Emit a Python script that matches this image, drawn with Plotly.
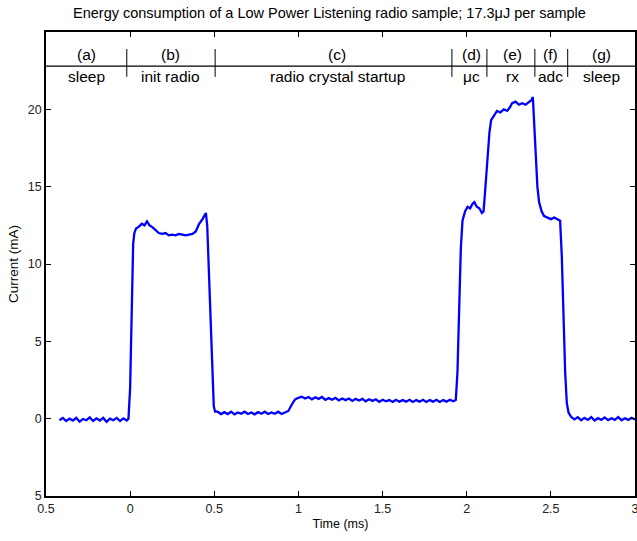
import plotly.graph_objects as go

# ---- data ----
time_ms = [
    -0.42, -0.40, -0.38, -0.36, -0.34, -0.32, -0.30, -0.28, -0.26, -0.24, -0.22, -0.20,
    -0.18, -0.16, -0.14, -0.12, -0.10, -0.08, -0.06, -0.04, -0.02, -0.01,
    0.0, 0.01, 0.018, 0.025, 0.035, 0.05, 0.07, 0.085, 0.10, 0.115, 0.13, 0.15, 0.17, 0.19,
    0.21, 0.23, 0.25, 0.27, 0.29, 0.31, 0.33, 0.35, 0.37, 0.39, 0.41, 0.43, 0.44, 0.45,
    0.458, 0.47, 0.48, 0.49, 0.497, 0.505,
    0.52, 0.54, 0.56, 0.58, 0.60, 0.62, 0.64, 0.66, 0.68, 0.70, 0.72, 0.74, 0.76, 0.78,
    0.80, 0.82, 0.84, 0.86, 0.88, 0.90, 0.92, 0.94, 0.96, 0.98, 1.00,
    1.02, 1.04, 1.06, 1.08, 1.10, 1.12, 1.14, 1.16, 1.18, 1.20, 1.22, 1.24, 1.26, 1.28,
    1.30, 1.32, 1.34, 1.36, 1.38, 1.40, 1.42, 1.44, 1.46, 1.48, 1.50, 1.52, 1.54, 1.56,
    1.58, 1.60, 1.62, 1.64, 1.66, 1.68, 1.70, 1.72, 1.74, 1.76, 1.78, 1.80, 1.82, 1.84,
    1.86, 1.88, 1.90, 1.92, 1.935,
    1.945, 1.955, 1.965, 1.975, 1.99, 2.005, 2.02, 2.035, 2.045, 2.06, 2.075, 2.09, 2.10,
    2.108, 2.12, 2.135, 2.145, 2.16, 2.18, 2.20, 2.22, 2.24, 2.255, 2.27, 2.29, 2.31, 2.33,
    2.35, 2.37, 2.385, 2.393,
    2.40, 2.41, 2.42, 2.43, 2.445, 2.46, 2.48, 2.50, 2.52, 2.54, 2.555,
    2.565, 2.575, 2.585, 2.595, 2.605, 2.62,
    2.64, 2.66, 2.68, 2.70, 2.72, 2.74, 2.76, 2.78, 2.80, 2.82, 2.84, 2.86, 2.88, 2.90,
    2.92, 2.94, 2.96, 2.98, 3.00,
]
current_ma = [
    -0.1, 0.05, -0.15, 0.0, -0.12, 0.05, -0.2, -0.02, -0.1, 0.08, -0.15, 0.02,
    -0.12, 0.05, -0.2, 0.0, -0.1, 0.05, -0.15, 0.02, -0.12, 0.0,
    2.0, 8.0, 11.3, 12.0, 12.3, 12.4, 12.6, 12.5, 12.75, 12.5, 12.4, 12.2, 12.0, 11.95,
    12.0, 11.85, 11.9, 11.85, 11.95, 11.9, 11.85, 11.9, 11.95, 12.1, 12.6, 12.9, 13.1, 13.3,
    12.5, 9.0, 5.5, 2.0, 0.8, 0.45,
    0.45, 0.3, 0.42, 0.3, 0.45, 0.28, 0.4, 0.32, 0.45, 0.3, 0.4, 0.28, 0.42, 0.32,
    0.45, 0.3, 0.4, 0.32, 0.45, 0.3, 0.4, 0.5, 0.9, 1.25, 1.35,
    1.42, 1.3, 1.4, 1.25, 1.38, 1.28, 1.4, 1.22, 1.33, 1.22, 1.35, 1.18, 1.3, 1.2,
    1.3, 1.15, 1.28, 1.18, 1.28, 1.12, 1.25, 1.15, 1.25, 1.08, 1.22, 1.12, 1.2, 1.08,
    1.22, 1.1, 1.2, 1.1, 1.22, 1.08, 1.2, 1.1, 1.22, 1.08, 1.2, 1.1, 1.22, 1.08,
    1.2, 1.1, 1.22, 1.12, 1.2,
    3.0, 7.5, 11.0, 12.8, 13.4, 13.7, 13.6, 13.9, 14.0, 13.7, 13.6, 13.3, 13.4,
    14.5, 16.5, 18.5, 19.3, 19.6, 19.9, 19.8, 20.0, 19.9, 20.1, 20.4, 20.5, 20.3, 20.4,
    20.3, 20.5, 20.6, 20.8,
    19.0, 17.0, 15.0, 14.0, 13.4, 13.1, 13.0, 12.9, 13.0, 12.9, 12.8,
    10.5, 6.5, 3.0, 1.0, 0.4, 0.12,
    -0.05, 0.1, -0.1, 0.05, -0.08, 0.1, -0.12, 0.03, -0.08, 0.08, -0.1, 0.03, -0.08, 0.1,
    -0.1, 0.03, -0.08, 0.06, -0.06,
]

x_tick_vals = [-0.5, 0, 0.5, 1, 1.5, 2, 2.5, 3]
x_tick_text = ["0.5", "0", "0.5", "1", "1.5", "2", "2.5", "3"]
y_tick_vals = [-5, 0, 5, 10, 15, 20]
y_tick_text = ["5", "0", "5", "10", "15", "20"]

phase_letters = ["(a)", "(b)", "(c)", "(d)", "(e)", "(f)", "(g)"]
phase_names = ["sleep", "init radio", "radio crystal startup", "μc", "rx", "adc", "sleep"]
phase_centers = [-0.26, 0.24, 1.23, 2.03, 2.27, 2.50, 2.80]
phase_bounds = [-0.02, 0.505, 1.912, 2.12, 2.405, 2.60]

title_text = "Energy consumption of a Low Power Listening radio sample; 17.3μJ per sample"

FONT = "Liberation Sans, Arial, sans-serif"

fig = go.Figure()
fig.add_trace(go.Scatter(
    x=time_ms, y=current_ma, mode="lines",
    line=dict(color="#0000ff", width=2.3),
    showlegend=False, hoverinfo="skip",
))

band_y = 22.8
shapes = [dict(type="line", xref="paper", yref="y", x0=0, x1=1, y0=band_y, y1=band_y,
               line=dict(color="black", width=1.2))]
for b in phase_bounds:
    shapes.append(dict(type="line", xref="x", yref="y", x0=b, x1=b, y0=22.1, y1=23.9,
                       line=dict(color="black", width=1)))

annotations = []
for lt, nm, c in zip(phase_letters, phase_names, phase_centers):
    annotations.append(dict(x=c, y=23.55, xref="x", yref="y", text=lt, showarrow=False,
                            font=dict(family=FONT, size=15.5, color="black")))
    annotations.append(dict(x=c, y=22.1, xref="x", yref="y", text=nm, showarrow=False,
                            font=dict(family=FONT, size=15.5, color="black")))
annotations.append(dict(x=0.481, y=1 + (32 - 13) / 464.0, xref="paper", yref="paper",
                        yanchor="middle", text=title_text, showarrow=False,
                        font=dict(family=FONT, size=14.5, color="black")))

fig.update_layout(
    width=637, height=541,
    margin=dict(l=46, r=2, t=32, b=45, autoexpand=False),
    paper_bgcolor="white", plot_bgcolor="white",
    font=dict(family=FONT, size=12, color="black"),
    shapes=shapes, annotations=annotations,
    xaxis=dict(range=[-0.5, 3], tickvals=x_tick_vals, ticktext=x_tick_text,
               showgrid=False, zeroline=False, showline=True, linecolor="black",
               linewidth=1.5, mirror="ticks", ticks="inside", ticklen=5, automargin=False,
               ticklabeloverflow="allow",
               tickcolor="black", title=dict(text="Time (ms)", font=dict(size=12.5), standoff=4),
               tickfont=dict(size=12.5, color="#222")),
    yaxis=dict(range=[-5, 25], tickvals=y_tick_vals, ticktext=y_tick_text,
               showgrid=False, zeroline=False, showline=True, linecolor="black",
               linewidth=1.5, mirror="ticks", ticks="inside", ticklen=5, automargin=False,
               ticklabeloverflow="allow",
               tickcolor="black", title=dict(text="Current (mA)", font=dict(size=13.5), standoff=6),
               tickfont=dict(size=12.5, color="#222")),
)

fig.write_html("out.html")
